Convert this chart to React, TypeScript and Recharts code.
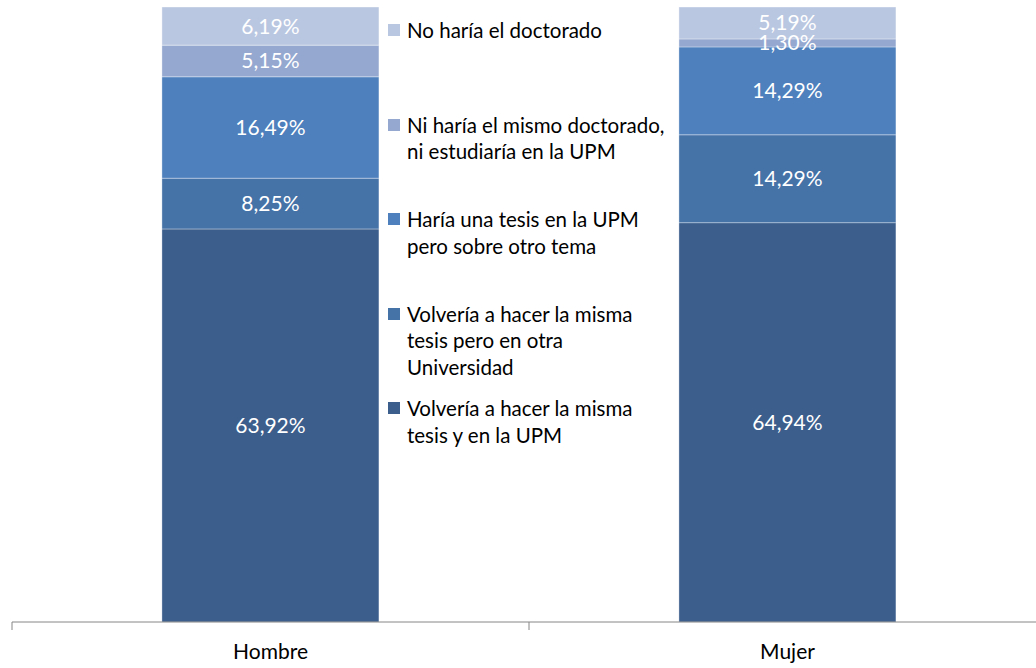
import { BarChart, Bar, XAxis, YAxis, LabelList } from 'recharts';

const categories = ['Hombre', 'Mujer'];

// series from bottom of the stack to the top
const seriesNames = [
  'Volvería a hacer la misma\ntesis y en la UPM',
  'Volvería a hacer la misma\ntesis pero en otra\nUniversidad',
  'Haría una tesis en la UPM\npero sobre otro tema',
  'Ni haría el mismo doctorado,\nni estudiaría en la UPM',
  'No haría el doctorado',
];
const mismaUpm = [63.92, 64.94];
const otraUniversidad = [8.25, 14.29];
const otroTema = [16.49, 14.29];
const niMismo = [5.15, 1.3];
const noHaria = [6.19, 5.19];

const seriesValues = [mismaUpm, otraUniversidad, otroTema, niMismo, noHaria];
const colors = ['#3B5E8C', '#4572A7', '#4D80BD', '#94A8D0', '#BAC7E1'];
const keys = ['s0', 's1', 's2', 's3', 's4'];

const data = categories.map((c, i) => {
  const row: Record<string, string | number> = { name: c };
  seriesValues.forEach((vals, s) => {
    row[keys[s]] = vals[i];
  });
  return row;
});

const FONT = 'Lato, "Open Sans", sans-serif';

const fmt = (v: unknown) => `${Number(v).toFixed(2).replace('.', ',')}%`;

function AxisTick(props: any) {
  const { x, y, payload, index } = props;
  const off = payload.offset || 0;
  const isLast = index === categories.length - 1;
  return (
    <g>
      <line x1={x - off} x2={x - off} y1={y - 8} y2={y} stroke="#868686" />
      {isLast && <line x1={x + off} x2={x + off} y1={y - 8} y2={y} stroke="#868686" />}
      <text x={x} y={y + 29} textAnchor="middle" fill="#000" fontSize={21} fontFamily={FONT}>
        {payload.value}
      </text>
    </g>
  );
}

function LegendBox() {
  const items = seriesNames.map((n, i) => ({ name: n, color: colors[i] })).reverse();
  return (
    <div
      style={{
        position: 'absolute',
        left: 388,
        top: 17,
        width: 320,
        fontFamily: FONT,
        fontSize: 20.5,
        color: '#000',
      }}
    >
      {items.map((it) => (
        <div key={it.name} style={{ height: 94.5, display: 'flex', alignItems: 'flex-start' }}>
          <div
            style={{
              width: 12,
              height: 12,
              background: it.color,
              marginTop: 7,
              marginRight: 7,
              flex: 'none',
            }}
          />
          <div style={{ whiteSpace: 'pre-line', lineHeight: '26.5px' }}>{it.name}</div>
        </div>
      ))}
    </div>
  );
}

export default function App() {
  return (
    <div style={{ position: 'absolute', left: 0, top: 0, width: 1036, height: 668, overflow: 'hidden', background: '#fff' }}>
      <BarChart
        width={1046}
        height={668}
        data={data}
        margin={{ top: 7, right: 0, bottom: 6, left: 12 }}
        barCategoryGap="29%"
      >
        <XAxis
          dataKey="name"
          stroke="#868686"
          tickLine={false}
          tickSize={8}
          tickMargin={0}
          height={40}
          tick={<AxisTick />}
          interval={0}
        />
        <YAxis hide domain={[0, 100]} type="number" />
        {keys.map((k, i) => (
          <Bar
            key={k}
            dataKey={k}
            stackId="a"
            fill={colors[i]}
            stroke="rgba(255,255,255,0.35)"
            strokeWidth={1}
            name={seriesNames[i]}
            isAnimationActive={false}
          >
            <LabelList
              dataKey={k}
              position="center"
              formatter={fmt}
              fill="#fff"
              fontSize={21}
              fontFamily={FONT}
            />
          </Bar>
        ))}
      </BarChart>
      <LegendBox />
    </div>
  );
}
